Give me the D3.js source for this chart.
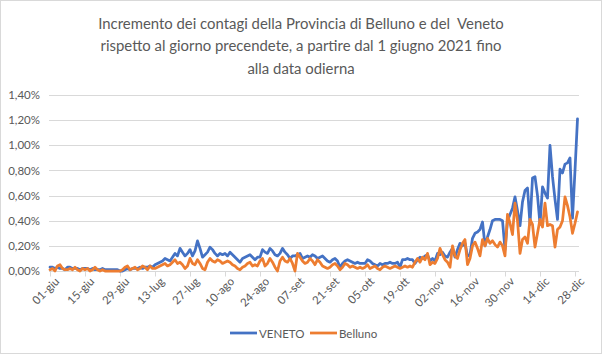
<!DOCTYPE html>
<html><head><meta charset="utf-8">
<script src="https://cdn.jsdelivr.net/npm/d3@7"></script>
<style>
html,body{margin:0;padding:0;background:#fff;}
svg{display:block;font-family:Lato,"Open Sans",sans-serif;}
</style></head>
<body>
<svg id="c" width="602" height="354"></svg>
<script>
const titleLines = [
  "Incremento dei contagi della Provincia di Belluno e del  Veneto",
  "rispetto al giorno precendete, a partire dal 1 giugno 2021 fino",
  "alla data odierna"
];
const seriesNames = ["VENETO", "Belluno"];
const xTickLabels = ["01-giu","15-giu","29-giu","13-lug","27-lug","10-ago","24-ago","07-set","21-set","05-ott","19-ott","02-nov","16-nov","30-nov","14-dic","28-dic"];
const yTicks = [0,0.2,0.4,0.6,0.8,1.0,1.2,1.4];
// daily % increments, 1 Jun 2021 - 29 Dec 2021
const veneto = [
 0.03,0.03,0.02,0.03,0.02,0.02,0.01,0.03,0.03,0.02,0.02,0.02,0.01,0.02,
 0.02,0.02,0.01,0.02,0.01,0.01,0.01,0.02,0.01,0.01,0.01,0.01,0.01,0.01,
 0.00,0.00,0.01,0.02,0.01,0.02,0.02,0.02,0.03,0.02,0.03,0.03,0.04,0.03,
 0.05,0.06,0.07,0.08,0.10,0.09,0.08,0.11,0.14,0.12,0.18,0.15,0.12,0.14,
 0.17,0.12,0.16,0.24,0.18,0.11,0.13,0.15,0.19,0.17,0.14,0.12,0.14,0.13,
 0.14,0.12,0.15,0.13,0.11,0.09,0.07,0.10,0.11,0.12,0.13,0.11,0.09,0.11,
 0.11,0.17,0.15,0.14,0.18,0.16,0.13,0.12,0.14,0.18,0.15,0.13,0.10,0.12,
 0.12,0.13,0.14,0.10,0.11,0.12,0.11,0.13,0.12,0.10,0.11,0.12,0.10,0.08,
 0.07,0.09,0.10,0.08,0.03,0.06,0.08,0.09,0.08,0.07,0.06,0.07,0.06,0.06,
 0.06,0.09,0.08,0.06,0.05,0.04,0.06,0.05,0.06,0.06,0.07,0.06,0.06,0.07,
 0.03,0.09,0.09,0.10,0.09,0.09,0.06,0.09,0.11,0.10,0.12,0.13,0.08,0.10,
 0.08,0.14,0.13,0.15,0.12,0.11,0.15,0.18,0.11,0.17,0.22,0.20,0.22,0.12,
 0.13,0.26,0.30,0.31,0.33,0.39,0.20,0.27,0.33,0.40,0.41,0.41,0.41,0.40,
 0.17,0.40,0.45,0.50,0.59,0.48,0.36,0.55,0.64,0.66,0.37,0.74,0.75,0.60,
 0.37,0.67,0.62,0.58,1.00,0.75,0.57,0.41,0.81,0.78,0.85,0.86,0.90,0.42,0.80,1.21
];
const belluno = [
 0.01,0.02,0.00,0.04,0.05,0.02,0.01,0.01,0.02,0.01,0.03,0.01,0.00,0.02,
 0.01,0.02,0.00,0.01,0.03,0.01,0.00,0.01,0.00,0.00,0.00,0.00,0.00,0.00,
 0.00,0.01,0.03,0.04,0.01,0.02,0.03,0.01,0.02,0.04,0.03,0.01,0.04,0.02,
 0.02,0.03,0.04,0.05,0.06,0.04,0.05,0.07,0.09,0.06,0.07,0.05,0.02,0.04,
 0.10,0.06,0.05,0.09,0.06,0.02,0.01,0.07,0.10,0.08,0.07,0.09,0.08,0.06,
 0.07,0.08,0.07,0.05,0.04,0.02,0.01,0.03,0.04,0.06,0.07,0.04,0.05,0.04,
 0.08,0.10,0.04,0.06,0.10,0.07,0.03,0.00,0.08,0.11,0.08,0.07,0.10,0.06,
 0.00,0.14,0.11,0.08,0.06,0.07,0.10,0.08,0.05,0.09,0.07,0.04,0.03,0.02,
 0.03,0.05,0.06,0.04,0.01,0.03,0.06,0.05,0.03,0.04,0.03,0.02,0.03,0.02,
 0.03,0.05,0.02,0.03,0.04,0.02,0.01,0.03,0.04,0.03,0.02,0.03,0.04,0.03,
 0.02,0.03,0.04,0.03,0.04,0.03,0.07,0.10,0.07,0.11,0.09,0.14,0.05,0.07,
 0.06,0.10,0.18,0.13,0.09,0.07,0.03,0.20,0.12,0.10,0.17,0.22,0.25,0.05,
 0.10,0.20,0.23,0.18,0.12,0.25,0.20,0.26,0.22,0.24,0.21,0.19,0.23,0.20,
 0.12,0.45,0.38,0.29,0.54,0.40,0.14,0.25,0.27,0.22,0.41,0.37,0.19,0.30,
 0.41,0.35,0.54,0.36,0.37,0.36,0.19,0.33,0.35,0.40,0.59,0.52,0.43,0.30,0.38,0.47
];
const colors = ["#4472C4", "#ED7D31"];

const svg = d3.select("#c");
// outer border
svg.append("rect").attr("x",0.5).attr("y",0.5).attr("width",601).attr("height",353)
  .attr("fill","#fff").attr("stroke","#d9d9d9");

// title
const titleEls = titleLines.map((t,i)=>svg.append("text").attr("x",301).attr("y",[29,51,74][i])
    .attr("text-anchor","middle").attr("fill","#595959").attr("font-size",18)
    .style("white-space","pre").attr("xml:space","preserve").text(t));
const w0 = titleEls[0].node().getComputedTextLength();
const fs = 18*406/w0;
titleEls.forEach(el=>el.attr("font-size", fs));

const x = d3.scaleLinear().domain([0, veneto.length-1]).range([50, 50 + 2.5*(veneto.length-1)]);
const y = d3.scaleLinear().domain([0, 1.4]).range([271, 95]);
const fmt = v => d3.format(".2f")(v).replace(".", ",") + "%";

// gridlines
svg.append("g").selectAll("line").data(yTicks.slice(1)).join("line")
  .attr("x1",49).attr("x2",579).attr("y1",d=>Math.round(y(d))+0.5).attr("y2",d=>Math.round(y(d))+0.5)
  .attr("stroke","#d9d9d9").attr("stroke-width",1);

// y axis labels
const ya = svg.append("g").attr("transform","translate(49,0)")
  .call(d3.axisLeft(y).tickValues(yTicks).tickFormat(fmt).tickSize(0).tickPadding(9));
ya.select(".domain").remove();
ya.selectAll("text").attr("fill","#595959").attr("font-size",11.5).attr("font-family","Lato,sans-serif");

// x axis
const tickIdx = xTickLabels.map((d,i)=>i*14);
const xa = svg.append("g").attr("transform",`translate(0,${Math.round(y(0))+0.5})`)
  .call(d3.axisBottom(x).tickValues(tickIdx).tickFormat((d,i)=>xTickLabels[i]).tickSize(5).tickSizeOuter(0));
xa.select(".domain").attr("stroke","#d9d9d9").attr("d","M49,0H579");
xa.selectAll(".tick line").attr("stroke","#d9d9d9");
xa.selectAll("text").attr("fill","#595959").attr("font-size",11.5).attr("font-family","Lato,sans-serif")
  .attr("text-anchor","end").attr("dy",0).attr("transform","translate(4,5) rotate(-45)");

// lines
const line = d3.line().x((d,i)=>x(i)).y(d=>y(d)).curve(d3.curveLinear);
[veneto, belluno].forEach((s,k)=>{
  svg.append("path").datum(s).attr("d",line).attr("fill","none")
    .attr("stroke",colors[k]).attr("stroke-width",2.75).attr("stroke-linejoin","round").attr("stroke-linecap","round");
});

// legend
const lg = svg.append("g");
const lx = [230, 310];
seriesNames.forEach((n,k)=>{
  lg.append("line").attr("x1",lx[k]).attr("x2",lx[k]+27).attr("y1",333).attr("y2",333)
    .attr("stroke",colors[k]).attr("stroke-width",2.75);
  lg.append("text").attr("x",lx[k]+29).attr("y",337.5).attr("fill","#595959")
    .attr("font-size",11.5).text(n);
});
</script>
</body></html>
